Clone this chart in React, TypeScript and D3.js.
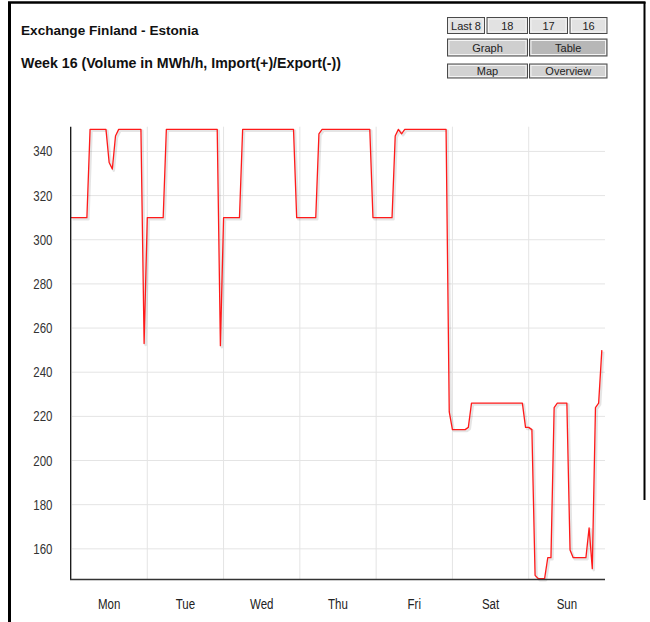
import { useEffect, useRef } from 'react';
import * as d3 from 'd3';

// hourly exchange volume, MWh/h (import positive)
const mon = [310, 310, 310, 310, 310, 310, 350, 350, 350, 350, 350, 350, 335, 332, 347, 350, 350, 350, 350, 350, 350, 350, 350, 253];
const tue = [310, 310, 310, 310, 310, 310, 350, 350, 350, 350, 350, 350, 350, 350, 350, 350, 350, 350, 350, 350, 350, 350, 350, 252];
const wed = [310, 310, 310, 310, 310, 310, 350, 350, 350, 350, 350, 350, 350, 350, 350, 350, 350, 350, 350, 350, 350, 350, 350, 310];
const thu = [310, 310, 310, 310, 310, 310, 348, 350, 350, 350, 350, 350, 350, 350, 350, 350, 350, 350, 350, 350, 350, 350, 350, 310];
const fri = [310, 310, 310, 310, 310, 310, 347, 350, 348, 350, 350, 350, 350, 350, 350, 350, 350, 350, 350, 350, 350, 350, 350, 222];
const sat = [214, 214, 214, 214, 214, 215, 226, 226, 226, 226, 226, 226, 226, 226, 226, 226, 226, 226, 226, 226, 226, 226, 226, 215];
const sun = [215, 214, 148, 146.5, 146.5, 146.5, 156, 156, 224, 226, 226, 226, 226, 159.5, 156, 156, 156, 156, 156, 169.5, 151, 224, 226, 250];

const volume = [...mon, ...tue, ...wed, ...thu, ...fri, ...sat, ...sun];
const days = ['Mon', 'Tue', 'Wed', 'Thu', 'Fri', 'Sat', 'Sun'];
const yTicks = [160, 180, 200, 220, 240, 260, 280, 300, 320, 340];

const title = 'Exchange Finland - Estonia';
const subtitle = 'Week 16 (Volume in MWh/h, Import(+)/Export(-))';

// nav buttons: label, left, right, row
const buttons = [
  { label: 'Last 8', x0: 447.5, x1: 484.5, row: 0, fill: '#e2e2e2' },
  { label: '18', x0: 487, x1: 527.5, row: 0, fill: '#e2e2e2' },
  { label: '17', x0: 529.5, x1: 567.5, row: 0, fill: '#e2e2e2' },
  { label: '16', x0: 570, x1: 607, row: 0, fill: '#e2e2e2' },
  { label: 'Graph', x0: 447.5, x1: 527.5, row: 1, fill: '#cfcfcf' },
  { label: 'Table', x0: 529.5, x1: 607, row: 1, fill: '#b7b7b7' },
  { label: 'Map', x0: 447.5, x1: 527.5, row: 2, fill: '#d2d2d2' },
  { label: 'Overview', x0: 529.5, x1: 607, row: 2, fill: '#d2d2d2' },
];
const rowY = [[17.5, 33.5], [39, 56], [64, 78]];

export default function App() {
  const ref = useRef<SVGSVGElement>(null);

  useEffect(() => {
    if (!ref.current) return;
    const svg = d3.select(ref.current);
    svg.selectAll('*').remove();

    const font = '"Liberation Sans", Arial, sans-serif';

    // frame
    svg.append('line').attr('x1', 9.5).attr('x2', 9.5).attr('y1', 2).attr('y2', 622)
      .attr('stroke', '#000').attr('stroke-width', 3);
    svg.append('line').attr('x1', 8).attr('x2', 645.5).attr('y1', 2.5).attr('y2', 2.5)
      .attr('stroke', '#000').attr('stroke-width', 2.5);
    svg.append('line').attr('x1', 644.5).attr('x2', 644.5).attr('y1', 2).attr('y2', 500)
      .attr('stroke', '#000').attr('stroke-width', 2);

    // titles
    svg.append('text').attr('x', 21).attr('y', 34.5).attr('font-family', font)
      .attr('font-weight', 'bold').attr('font-size', 13.6).attr('fill', '#111').text(title);
    svg.append('text').attr('x', 21).attr('y', 67.5).attr('font-family', font)
      .attr('font-weight', 'bold').attr('font-size', 14.2).attr('fill', '#111').text(subtitle);

    // buttons
    const btn = svg.selectAll('.btn').data(buttons).enter().append('g').attr('class', 'btn');
    btn.append('rect')
      .attr('x', d => d.x0).attr('y', d => rowY[d.row][0])
      .attr('width', d => d.x1 - d.x0).attr('height', d => rowY[d.row][1] - rowY[d.row][0])
      .attr('fill', d => d.fill).attr('stroke', '#4a4a4a').attr('stroke-width', 1);
    btn.append('rect')
      .attr('x', d => d.x0 + 1.5).attr('y', d => rowY[d.row][0] + 1.5)
      .attr('width', d => d.x1 - d.x0 - 3).attr('height', d => rowY[d.row][1] - rowY[d.row][0] - 3)
      .attr('fill', 'none').attr('stroke', '#f4f4f4').attr('stroke-width', 1);
    btn.append('text')
      .attr('x', d => (d.x0 + d.x1) / 2).attr('y', d => (rowY[d.row][0] + rowY[d.row][1]) / 2 + 4)
      .attr('text-anchor', 'middle').attr('font-family', font).attr('font-size', 11)
      .attr('fill', '#222').text(d => d.label);

    // scales
    const x = d3.scaleLinear().domain([0, 168]).range([71, 605]);
    const y = d3.scaleLinear().domain([146.2, 351.2]).range([579.3, 126.7]);

    // grid
    svg.append('g').selectAll('line').data(yTicks).enter().append('line')
      .attr('x1', x(0) + 1).attr('x2', x(168))
      .attr('y1', d => y(d)).attr('y2', d => y(d))
      .attr('stroke', '#e4e4e4').attr('stroke-width', 1);
    svg.append('g').selectAll('line').data(d3.range(1, 7)).enter().append('line')
      .attr('x1', d => x(d * 24)).attr('x2', d => x(d * 24))
      .attr('y1', y.range()[1]).attr('y2', y.range()[0])
      .attr('stroke', '#e4e4e4').attr('stroke-width', 1);

    // y labels
    svg.append('g').selectAll('text').data(yTicks).enter().append('text')
      .attr('transform', d => `translate(52.5, ${y(d) + 5}) scale(1, 1.2)`)
      .attr('text-anchor', 'end').attr('font-family', font).attr('font-size', 11.5)
      .attr('fill', '#333').text(d => d);

    // x labels
    svg.append('g').selectAll('text').data(days).enter().append('text')
      .attr('transform', (d, i) => `translate(${x(i * 24 + 12)}, 609) scale(1, 1.2)`)
      .attr('text-anchor', 'middle').attr('font-family', font).attr('font-size', 11.5)
      .attr('fill', '#222').text(d => d);

    // line + shadow
    const line = d3.line<number>().x((d, i) => x(i)).y(d => y(d));
    svg.append('path').datum(volume).attr('d', line)
      .attr('transform', 'translate(1.5,1.5)')
      .attr('fill', 'none').attr('stroke', '#000').attr('stroke-opacity', 0.1)
      .attr('stroke-width', 2.5).attr('stroke-linejoin', 'round');
    svg.append('path').datum(volume).attr('d', line)
      .attr('fill', 'none').attr('stroke', '#ff1a1a').attr('stroke-width', 1.3)
      .attr('stroke-linejoin', 'round');

    // axes
    svg.append('line').attr('x1', 70.7).attr('x2', 70.7).attr('y1', 126.7).attr('y2', 580)
      .attr('stroke', '#111').attr('stroke-width', 1.3);
    svg.append('line').attr('x1', 70).attr('x2', 605).attr('y1', 579.5).attr('y2', 579.5)
      .attr('stroke', '#333').attr('stroke-width', 1.3);
  }, []);

  return (
    <svg ref={ref} width={650} height={622}
      style={{ position: 'absolute', left: 0, top: 0, background: '#fff' }} />
  );
}
